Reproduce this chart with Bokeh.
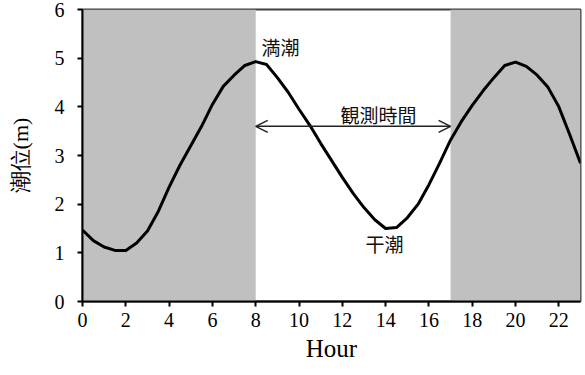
from bokeh.plotting import figure
from bokeh.models import Range1d, Arrow, OpenHead, Label, FixedTicker
from bokeh.embed import file_html
from bokeh.resources import INLINE

# Tide level (m), every half hour
hours = [0, 0.5, 1, 1.5, 2, 2.5, 3, 3.5, 4, 4.5, 5, 5.5, 6, 6.5, 7, 7.5, 8, 8.5,
         9, 9.5, 10, 10.5, 11, 11.5, 12, 12.5, 13, 13.5, 14, 14.5, 15, 15.5, 16,
         16.5, 17, 17.5, 18, 18.5, 19, 19.5, 20, 20.5, 21, 21.5, 22, 22.5, 23]
tide = [1.47, 1.25, 1.12, 1.05, 1.05, 1.2, 1.45, 1.85, 2.35, 2.8, 3.2, 3.6, 4.05,
        4.42, 4.65, 4.85, 4.93, 4.87, 4.6, 4.3, 3.95, 3.62, 3.25, 2.9, 2.55, 2.22,
        1.93, 1.68, 1.5, 1.52, 1.72, 2.0, 2.4, 2.85, 3.32, 3.7, 4.03, 4.33, 4.6,
        4.85, 4.92, 4.83, 4.65, 4.4, 4.0, 3.43, 2.84]

# Shaded (outside observation) periods
shade_start = [0, 17]
shade_end = [8, 23]

x_ticks = [0, 2, 4, 6, 8, 10, 12, 14, 16, 18, 20, 22]
y_ticks = [0, 1, 2, 3, 4, 5, 6]

obs_start, obs_end, obs_level = 8, 17, 3.6

serif = "Liberation Serif"
cjk = "Noto Sans CJK JP"

p = figure(width=585, height=375, output_backend="svg", toolbar_location=None,
           x_range=Range1d(0, 23), y_range=Range1d(0, 6),
           min_border_left=82, min_border_right=5, min_border_top=9,
           min_border_bottom=74)
p.background_fill_color = "white"
p.border_fill_color = "white"
p.outline_line_color = "#404040"
p.outline_line_width = 2
p.grid.visible = False

p.quad(left=shade_start, right=shade_end, bottom=0, top=6,
       fill_color="#c0c0c0", line_color=None)

p.line(hours, tide, line_color="black", line_width=3, line_join="round")

p.add_layout(Arrow(start=OpenHead(size=12, line_width=1.5, line_color="#222222"),
                   end=OpenHead(size=12, line_width=1.5, line_color="#222222"),
                   x_start=obs_start, x_end=obs_end, y_start=obs_level, y_end=obs_level,
                   line_width=1.5, line_color="#222222"))

for txt, xx, yy in [("満潮", 9.15, 5.25), ("観測時間", 13.67, 3.85), ("干潮", 13.95, 1.19)]:
    p.add_layout(Label(x=xx, y=yy, text=txt, text_font=cjk, text_font_size="19px",
                       text_align="center", text_baseline="middle", text_color="#111111"))

for ax in (p.xaxis, p.yaxis):
    ax.axis_line_color = "black"
    ax.axis_line_width = 2
    ax.major_tick_line_color = "black"
    ax.major_tick_line_width = 2
    ax.major_tick_in = 0
    ax.major_tick_out = 5
    ax.minor_tick_line_color = None
    ax.major_label_text_font = serif
    ax.major_label_text_font_size = "20px"
    ax.major_label_text_color = "black"
    ax.axis_label_text_font = serif
    ax.axis_label_text_font_style = "normal"
    ax.axis_label_text_color = "black"

p.xaxis.ticker = FixedTicker(ticks=x_ticks)
p.yaxis.ticker = FixedTicker(ticks=y_ticks)
p.xaxis.major_label_standoff = 6
p.yaxis.major_label_standoff = 13
p.xaxis.axis_label = "Hour"
p.xaxis.axis_label_text_font_size = "25px"
p.xaxis.axis_label_standoff = 5
p.yaxis.axis_label = "潮位(m)"
p.yaxis.axis_label_text_font_size = "22px"
p.yaxis.axis_label_standoff = 19

open("out.html", "w").write(file_html(p, INLINE))
